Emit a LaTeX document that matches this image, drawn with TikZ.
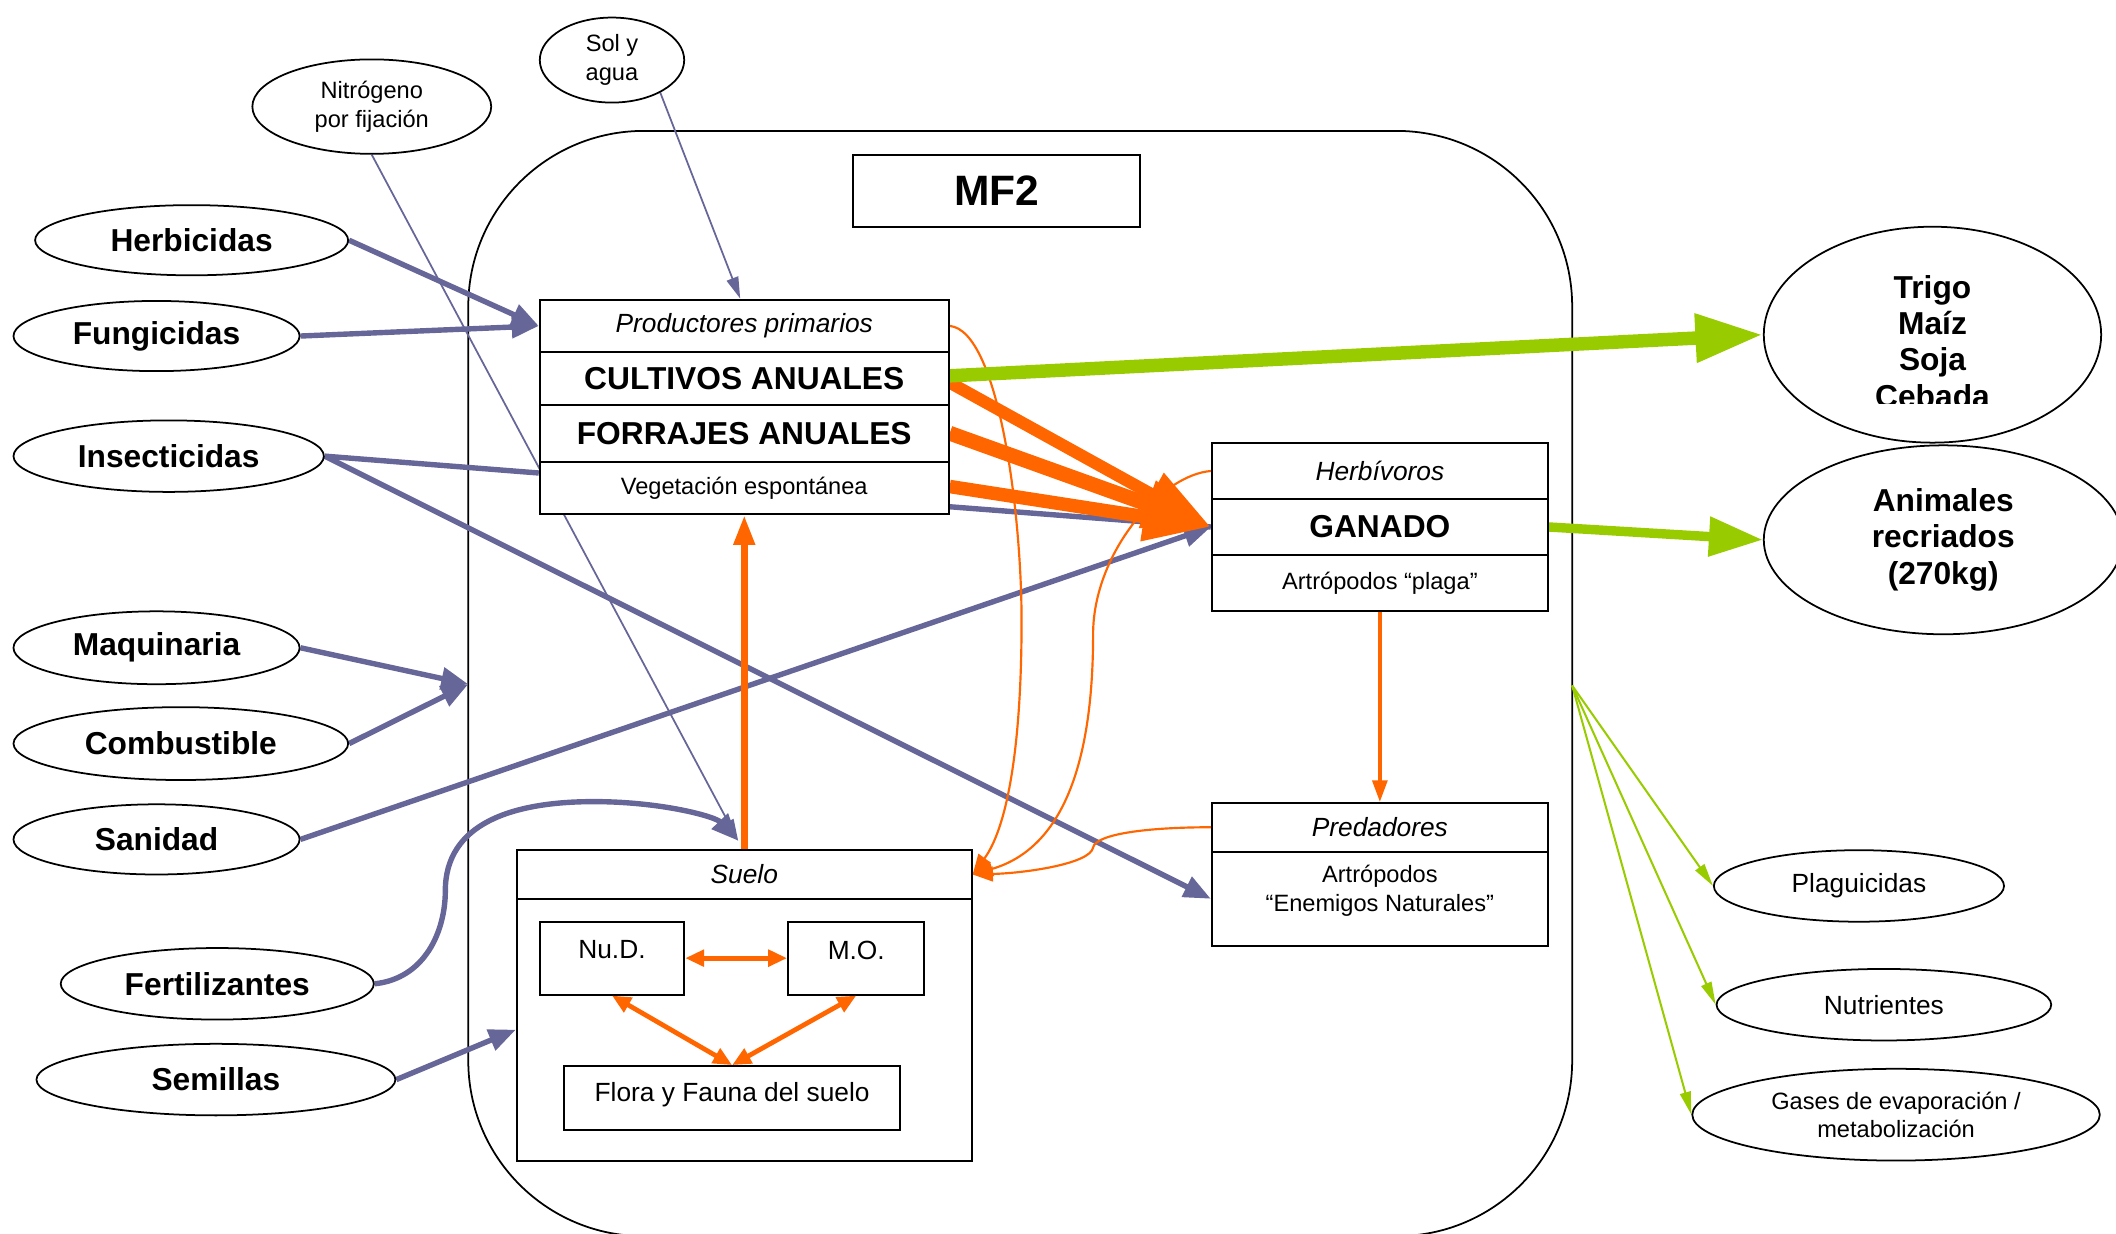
\documentclass[tikz,border=0pt]{standalone}
\usepackage{fontspec}
\setmainfont{Liberation Sans}
\usetikzlibrary{shapes.geometric,arrows.meta,calc,backgrounds}
\definecolor{bl}{HTML}{666699}
\definecolor{org}{HTML}{FF6600}
\definecolor{grn}{HTML}{99CC00}
\begin{document}
\begin{tikzpicture}[x=1pt,y=-1pt,
  ell/.style={draw,ellipse,line width=1.3pt,inner sep=0pt,fill=white},
  cell/.style={draw,rectangle,line width=1.5pt,inner sep=0pt,fill=white},
  bigt/.style={font=\fontsize{23.5}{27}\selectfont\bfseries},
  medt/.style={font=\fontsize{19.5}{23}\selectfont},
  medi/.style={font=\fontsize{19.5}{23}\selectfont\itshape},
  smt/.style={font=\fontsize{17.5}{21}\selectfont},
  bthick/.style={bl,line width=4pt},
  bthin/.style={bl,line width=1.3pt},
  bhead/.style={-{Triangle[length=20pt,width=16pt]}},
  bsmall/.style={-{Triangle[length=16pt,width=9pt]}},
  othin/.style={org,line width=1.6pt,-{Triangle[length=15pt,width=11pt]}},
  gthin/.style={grn,line width=1.5pt,-{Triangle[length=17pt,width=8pt]}},
  dbl/.style={org,line width=3.5pt,{Triangle[length=14pt,width=12pt]}-{Triangle[length=14pt,width=12pt]}}
]
\useasboundingbox (0,0) rectangle (1568,914);

% ---------- title ----------
\node[cell,minimum width=213pt,minimum height=53pt,font=\fontsize{31.5}{36}\selectfont\bfseries] (mf) at (738.5,141.5) {MF2};

% ---------- productores ----------
\node[cell,minimum width=303pt,minimum height=39pt,medi] (pp) at (551.5,241.5) {Productores primarios};
\node[cell,minimum width=303pt,minimum height=39pt,bigt] (cult) at (551.5,280.5) {CULTIVOS ANUALES};
\node[cell,minimum width=303pt,minimum height=42pt,bigt] (forr) at (551.5,321) {FORRAJES ANUALES};
\node[cell,minimum width=303pt,minimum height=39pt,smt] (veg) at (551.5,361.5) {Vegetación espontánea};

% ---------- herbivoros ----------
\node[cell,minimum width=249pt,minimum height=42pt,medi] (herbv) at (1022.5,349) {Herbívoros};
\node[cell,minimum width=249pt,minimum height=41pt,bigt] (gan) at (1022.5,390.5) {GANADO};
\node[cell,minimum width=249pt,minimum height=42pt,smt] (plaga) at (1022.5,432) {Artrópodos “plaga”};

% ---------- predadores ----------
\node[cell,minimum width=249pt,minimum height=36pt,medi] (pred) at (1022.5,613) {Predadores};
\node[cell,minimum width=249pt,minimum height=70pt] (enem) at (1022.5,666) {};
\node[smt,align=center] (enemt) at (1022.5,660) {Artrópodos\\“Enemigos Naturales”};

% ---------- suelo ----------
\node[cell,minimum width=337pt,minimum height=36pt,medi] (suelo) at (551.5,648) {Suelo};
\node[cell,minimum width=337pt,minimum height=194pt] (sbody) at (551.5,763) {};
\node[cell,minimum width=107pt,minimum height=54pt] (nud) at (453.5,710) {};
\node[medt] (nudt) at (453.5,704) {Nu.D.};
\node[cell,minimum width=101pt,minimum height=54pt] (mo) at (634.5,710) {};
\node[medt] (mot) at (634.5,704) {M.O.};
\node[cell,minimum width=249pt,minimum height=47pt] (flora) at (542.5,813.5) {};
\node[medt] (florat) at (542.5,811) {Flora y Fauna del suelo};

% ---------- left inputs ----------
\node[ell,minimum width=232pt,minimum height=52pt,bigt] (herbi) at (142,178) {Herbicidas};
\node[ell,minimum width=212pt,minimum height=52pt,bigt] (fung) at (116,249) {Fungicidas};
\node[ell,minimum width=230pt,minimum height=53pt,bigt] (ins) at (125,338) {Insecticidas};
\node[ell,minimum width=212pt,minimum height=54pt,bigt] (maq) at (116,480) {Maquinaria};
\node[ell,minimum width=248pt,minimum height=54pt,bigt] (comb) at (134,551) {Combustible};
\node[ell,minimum width=212pt,minimum height=52pt,bigt] (san) at (116,622) {Sanidad};
\node[ell,minimum width=232pt,minimum height=53pt,bigt] (fert) at (161,729) {Fertilizantes};
\node[ell,minimum width=266pt,minimum height=53pt,bigt] (sem) at (160,800) {Semillas};
\node[ell,minimum width=177pt,minimum height=70pt,smt,align=center] (nit) at (275.5,79) {Nitrógeno\\por fijación};
\node[ell,minimum width=107pt,minimum height=63pt,smt,align=center] (sol) at (453.5,44.5) {Sol y\\agua};

% ---------- right outputs ----------
\node[ell,minimum width=250pt,minimum height=160pt] (tri) at (1432,248) {};
\begin{scope}
  \clip (1300,160) rectangle (1560,299);
  \node[bigt,align=center] (trit) at (1432,253) {Trigo\\Maíz\\Soja\\Cebada};
\end{scope}
\node[ell,minimum width=266pt,minimum height=140pt,bigt,align=center] (anim) at (1440,400) {Animales\\recriados\\(270kg)};
\node[ell,minimum width=215pt,minimum height=53pt,medt] (plag) at (1377.5,656.5) {Plaguicidas};
\node[ell,minimum width=248pt,minimum height=53pt,medt] (nut) at (1396,744.5) {Nutrientes};
\node[ell,minimum width=302pt,minimum height=68pt,smt,align=center] (gas) at (1405,826) {Gases de evaporación /\\metabolización};

\coordinate (lin) at (347,507);
\coordinate (rout) at (1165,508);
\coordinate (sin) at (547,623);

% ---------- connectors ----------
\begin{pgfonlayer}{background}
\draw[line width=1.3pt,rounded corners=130pt] (347,97) rectangle (1165,916);

\draw[bthick,bhead] (herbi.east) -- (pp.west);
\draw[bthick,bhead] (fung.east) -- (pp.west);
\draw[bthick] (ins.east) -- ($(veg.west)+(0,-11)$);
\draw[bthick,bhead] (ins.east) -- (enem.west);
\draw[bthin,bsmall] (nit.south) -- (sin);
\draw[bthin,bsmall] (sol.-34) -- ($(pp.north)+(-3,0)$);
\draw[bthick,bhead] (maq.east) -- (lin);
\draw[bthick,bhead] (comb.east) -- (lin);
\draw[bthick,bhead] (san.east) -- (gan.west);
\draw[bthick,bhead] (fert.east) .. controls (315,725) and (330,690) .. (330,660)
   .. controls (330,610) and (380,594) .. (440,594)
   .. controls (490,594) and (530,605) .. (sin);
\draw[bthick,bhead] (sem.east) -- (sbody.west);
\draw[bthick] ($(veg.east)+(0,14)$) -- (gan.west);

\draw[org,line width=9pt,-{Triangle[length=50pt,width=34pt]}] ($(cult.east)+(0,3)$) -- (gan.west);
\draw[org,line width=11pt,-{Triangle[length=50pt,width=34pt]}] (forr.east) -- (gan.west);
\draw[org,line width=10pt,-{Triangle[length=50pt,width=34pt]}] ($(veg.east)+(0,-1)$) -- (gan.west);
\draw[org,line width=5pt,-{Triangle[length=22pt,width=15pt]}] (suelo.north) -- (veg.south);
\draw[org,line width=2.5pt,-{Triangle[length=16pt,width=11pt]}] (plaga.south) -- (pred.north);
\draw[othin] (pp.east) .. controls (740,245) and (757,380) .. (757,460)
   .. controls (757,560) and (745,615) .. (suelo.east);
\draw[othin] (herbv.west) .. controls (860,352) and (810,410) .. (810,470)
   .. controls (810,560) and (790,628) .. (suelo.east);
\draw[othin] (pred.west) .. controls (850,613) and (812,618) .. (810,628)
   .. controls (808,640) and (760,647) .. (suelo.east);

\draw[grn,line width=10pt,-{Triangle[length=50pt,width=34pt]}] ($(cult.east)+(0,-2)$) -- (tri.west);
\draw[grn,line width=7pt,-{Triangle[length=40pt,width=28pt]}] (gan.east) -- (anim.west);
\draw[gthin] (rout) -- (plag.west);
\draw[gthin] (rout) -- (nut.west);
\draw[gthin] (rout) -- (gas.west);
\end{pgfonlayer}

\draw[dbl] (nud.east) -- (mo.west);
\draw[dbl] (nud.south) -- (flora.north);
\draw[dbl] (mo.south) -- (flora.north);
\end{tikzpicture}
\end{document}
